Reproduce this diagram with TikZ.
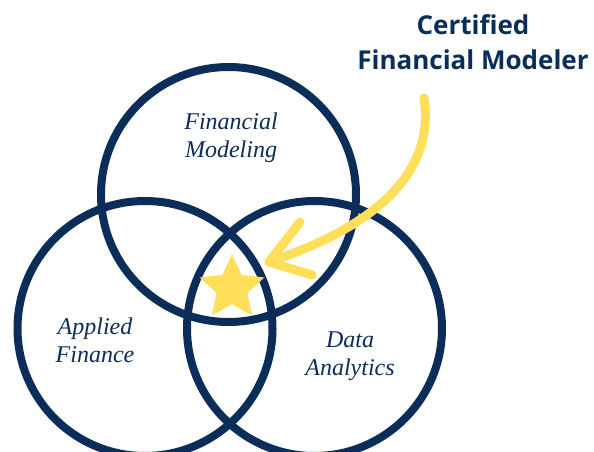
\documentclass[tikz,border=0pt]{standalone}
\usepackage{fontspec}
\usetikzlibrary{shapes.geometric}
\newfontfamily\headfont{Open Sans}
\newfontfamily\labelfont{Liberation Serif}
\definecolor{navy}{HTML}{0A2D5A}
\definecolor{staryellow}{HTML}{FFDE59}
\begin{document}
\begin{tikzpicture}[x=1pt,y=-1pt,
    ring/.style={draw=navy,line width=8pt},
    circlelabel/.style={text=navy,font=\labelfont\itshape\fontsize{24}{27.5}\selectfont,align=center,inner sep=0pt},
    brush/.style={draw=staryellow,line width=9pt,line cap=round,line join=round}]
  \useasboundingbox (0,0) rectangle (594,452);

  % Drawing circle Financial Modeling
  \draw [ring] (228.5,194.5) circle (127.5);%

  % Drawing circle Applied Finance
  \draw [ring] (145.0,328.5) circle (127.5);%

  % Drawing circle Data Analytics
  \draw [ring] (314.5,328.5) circle (127.5);%

  % Marking circle labels (base = last line)
  \node (model) [circlelabel,anchor=base] at (231.0,157.0) {Financial\\Modeling};%
  \node (finance) [circlelabel,anchor=base] at (95.0,362.0) {Applied\\Finance};%
  \node (data) [circlelabel,anchor=base] at (350.0,375.0) {Data\\Analytics};%

  % Marking the star
  \node (star) [star,star points=5,star point ratio=2.1,minimum size=68pt,inner sep=0pt,fill=staryellow] at (232.0,288.0) {};%

  % Marking the title
  \node (title) [text=navy,font=\headfont\bfseries\fontsize{26}{35}\selectfont,align=center,inner sep=0pt,anchor=base] at (473.0,70.0) {Certified\\Financial Modeler};%

  % Drawing the arrow
  \coordinate (tail) at (424.0,98.0);
  \coordinate (tip) at (269.0,262.0);
  \coordinate (upper) at (300.0,222.0);
  \coordinate (lower) at (312.0,275.0);
  \draw [brush] (tail) .. controls (435.0,170.0) and (380.0,225.0) .. (tip);%
  \draw [brush] (upper) -- (tip) -- (lower);%
\end{tikzpicture}
\end{document}
